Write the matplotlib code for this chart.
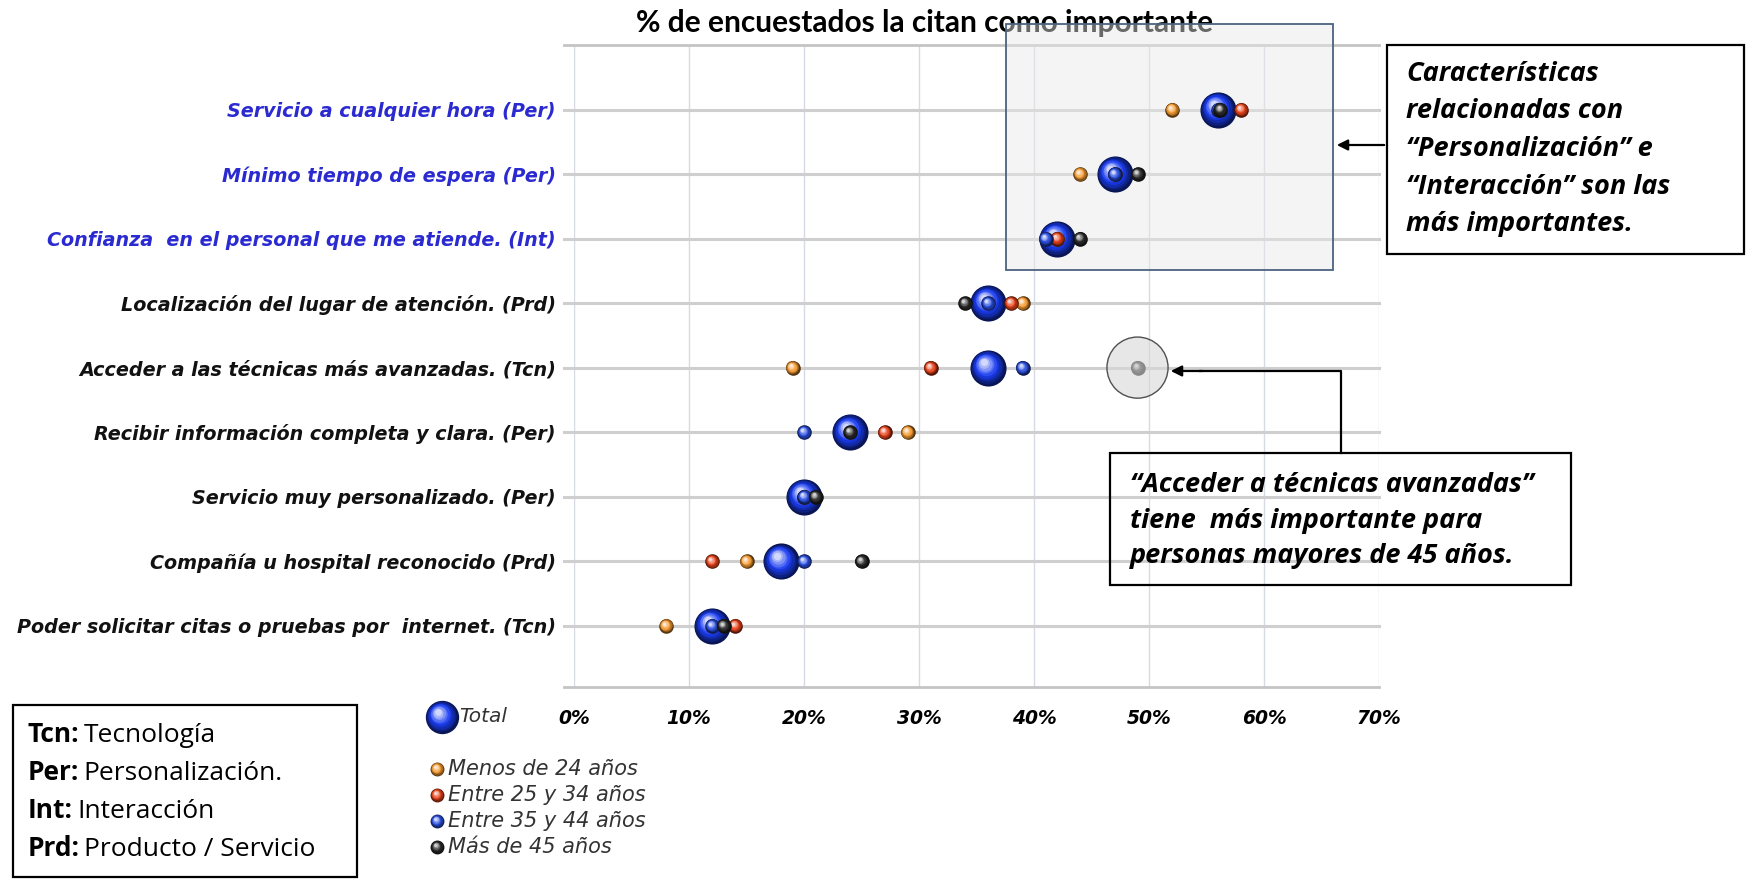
import matplotlib.pyplot as plt
import matplotlib.colors as mcolors
import numpy as np
from matplotlib.transforms import ScaledTranslation
from matplotlib.patches import Rectangle

# data, rows listed top to bottom
categories = [
    'Servicio a cualquier hora (Per)',
    'Mínimo tiempo de espera (Per)',
    'Confianza  en el personal que me atiende. (Int)',
    'Localización del lugar de atención. (Prd)',
    'Acceder a las técnicas más avanzadas. (Tcn)',
    'Recibir información completa y clara. (Per)',
    'Servicio muy personalizado. (Per)',
    'Compañía u hospital reconocido (Prd)',
    'Poder solicitar citas o pruebas por  internet. (Tcn)',
]
highlighted = [True, True, True, False, False, False, False, False, False]
total = [56, 47, 42, 36, 36, 24, 20, 18, 12]
menos_24 = [52, 44, 42, 39, 19, 29, 20, 15, 8]
entre_25_34 = [58, 47, 42, 38, 31, 27, 20, 12, 14]
entre_35_44 = [56, 47, 41, 36, 39, 20, 20, 20, 12]
mas_45 = [56.2, 49, 44, 34, 49, 24, 21, 25, 13]
series_names = ['Menos de 24 años', 'Entre 25 y 34 años', 'Entre 35 y 44 años', 'Más de 45 años']
xticks = [0, 10, 20, 30, 40, 50, 60, 70]

W, H = 1747, 880
fig = plt.figure(figsize=(W / 100, H / 100), dpi=100)
ax = fig.add_axes([574 / W, 1 - 687 / H, 805 / W, 642 / H])
ov = fig.add_axes([0, 0, 1, 1], zorder=5)
ov.set_xlim(0, W)
ov.set_ylim(H, 0)
ov.axis('off')
ov.patch.set_alpha(0)


def sphere(axes, x, y, d, color, z=3):
    # fake 3d ball: stack of circles going from dark rim to light highlight
    base = np.array(mcolors.to_rgb(color))
    dark = base * 0.35
    n = 9
    for k in range(n):
        f = k / (n - 1)
        if f < 0.45:
            c = dark + (base - dark) * (f / 0.45)
        else:
            c = base + (np.ones(3) - base) * ((f - 0.45) / 0.55) * 0.8
        size = d * (1 - 0.8 * f)
        tr = axes.transData + ScaledTranslation(-0.12 * d * f / 72, 0.15 * d * f / 72,
                                                fig.dpi_scale_trans)
        axes.scatter(x, y, s=size ** 2, color=c, transform=tr, zorder=z + k * 0.01,
                     linewidths=0, clip_on=False)


ypos = np.arange(len(categories))[::-1]

sphere(ax, total, ypos, 26, '#1a3cf0', z=3)
colors = ['#f59a30', '#e8421a', '#2a4fe0', '#2a2a2a']
for i, vals in enumerate([menos_24, entre_25_34, entre_35_44, mas_45]):
    sphere(ax, vals, ypos, 10.5, colors[i], z=4 + i)

ax.set_xlim(0, 70)
ax.set_ylim(-0.95, 9.0)
ax.set_xticks(xticks)
ax.set_xticklabels([f'{t}%' for t in xticks], fontsize=13.5, fontweight='bold',
                   fontstyle='italic')
ax.set_yticks(ypos)
ax.set_yticklabels(categories, fontsize=13.8, fontweight='bold', fontstyle='italic')
for lab, hl in zip(ax.get_yticklabels(), highlighted):
    lab.set_color('#2a2ad0' if hl else '#111111')
ax.tick_params(length=0)
ax.tick_params(axis='y', pad=13)
ax.tick_params(axis='x', pad=16)
for s in ax.spines.values():
    s.set_visible(False)
for t in xticks:
    ax.axvline(t, color='#d6dae4', lw=1, zorder=0)
for y in ypos:
    ax.axhline(y, xmin=-0.012, color='#cfcfcf', lw=2.2, zorder=0.5, clip_on=False)
ax.axhline(9.0, xmin=-0.012, color='#c4c4c4', lw=2, zorder=0.5, clip_on=False)
ax.axhline(-0.95, xmin=-0.012, color='#c4c4c4', lw=2, zorder=0.5, clip_on=False)

ax.text(0.436, 1.034, '% de encuestados la citan como importante', transform=ax.transAxes,
        ha='center', va='center', fontsize=21.5, fontweight='bold', family='Lato', zorder=1)

# shaded box around top three items and highlight circle
ax.add_patch(Rectangle((37.6, 5.52), 28.4, 3.8, facecolor='#e8e8e8', alpha=0.45,
                       edgecolor='none', zorder=1.5, clip_on=False))
ax.add_patch(Rectangle((37.6, 5.52), 28.4, 3.8, facecolor='none', edgecolor='#4a6280',
                       lw=1.3, zorder=2, clip_on=False))
ax.scatter([mas_45[4]], [ypos[4]], s=44 ** 2, facecolor='#d8d8d8', alpha=0.6,
           edgecolor='none', zorder=8)
ax.scatter([mas_45[4]], [ypos[4]], s=44 ** 2, facecolor='none', edgecolor='#505050',
           lw=1, zorder=8.1)

# callout boxes
ov.add_patch(Rectangle((1387, 45), 357, 209, fill=False, edgecolor='black', lw=1.6))
box1 = ['Características', 'relacionadas con', '“Personalización” e',
        '“Interacción” son las', 'más importantes.']
for i, t in enumerate(box1):
    ov.text(1406, 74 + i * 37.5, t, fontsize=19.5, fontweight='bold', fontstyle='italic',
            family='Open Sans', va='center', ha='left')
ov.annotate('', xy=(1334, 145), xytext=(1387, 145),
            arrowprops=dict(arrowstyle='-|>', color='black', lw=1.6, mutation_scale=16))

ov.add_patch(Rectangle((1110, 453), 461, 132, fill=False, edgecolor='black', lw=1.6))
box2 = ['“Acceder a técnicas avanzadas”', 'tiene  más importante para',
        'personas mayores de 45 años.']
for i, t in enumerate(box2):
    ov.text(1130, 485 + i * 35.5, t, fontsize=19.5, fontweight='bold', fontstyle='italic',
            family='Open Sans', va='center', ha='left')
ov.plot([1341, 1341, 1200], [453, 371, 371], color='black', lw=1.6)
ov.annotate('', xy=(1168, 371), xytext=(1205, 371),
            arrowprops=dict(arrowstyle='-|>', color='black', lw=1.6, mutation_scale=16))

# abbreviation legend
ov.add_patch(Rectangle((13, 705), 344, 172, fill=False, edgecolor='black', lw=1.6))
abbr = [('Tcn', 'Tecnología'), ('Per', 'Personalización.'), ('Int', 'Interacción'),
        ('Prd', 'Producto / Servicio')]
for i, (k, v) in enumerate(abbr):
    t = ov.text(28, 735 + i * 38, k + ':', fontsize=19, fontweight='bold', family='Open Sans',
                va='center', ha='left')
    ov.annotate(v, xycoords=t, xy=(1, 0.5), xytext=(3, 0), textcoords='offset points',
                va='center', ha='left', fontsize=19, family='Open Sans')

# series legend
sphere(ov, [442], [717], 24, '#1a3cf0', z=3)
ov.text(459, 717, 'Total', fontsize=14.5, fontstyle='italic', color='#333333', va='center')
for i, name in enumerate(series_names):
    yy = 769 + i * 26
    sphere(ov, [437], [yy], 10, colors[i], z=3)
    ov.text(448, yy, name, fontsize=15, fontstyle='italic', color='#333333', va='center')

fig.savefig('out.png', dpi=100)
